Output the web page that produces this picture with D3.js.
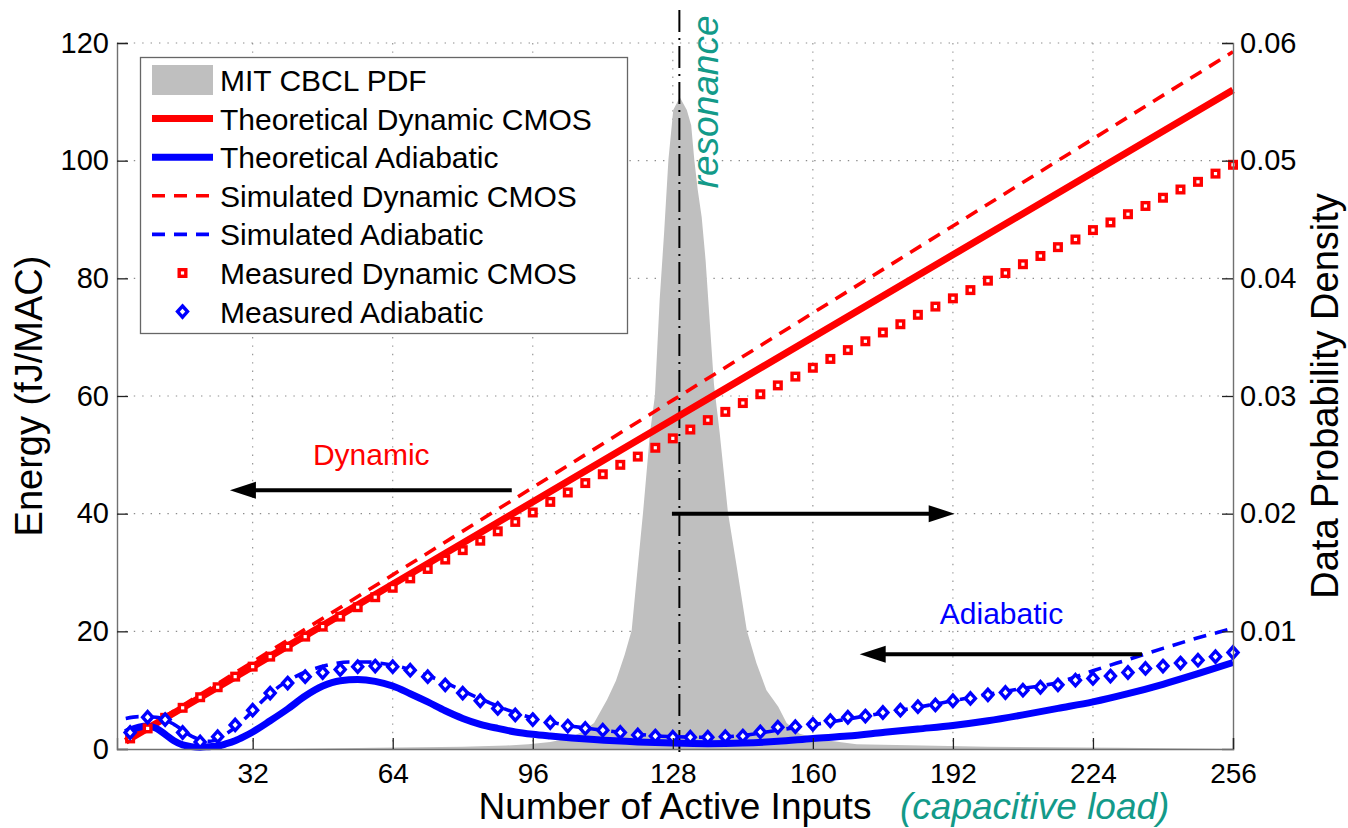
<!DOCTYPE html>
<html>
<head>
<meta charset="utf-8">
<script src="https://cdn.jsdelivr.net/npm/d3@7"></script>
<style>
    body { margin: 0; background: #fff; }
    svg text { font-family: "Liberation Sans", Arial, Helvetica, sans-serif; }
</style>
</head>
<body>
<svg id="chart" width="1348" height="828"></svg>
<script>
// tick values
const xTicks = [32, 64, 96, 128, 160, 192, 224, 256];
const yLeftTicks = [0, 20, 40, 60, 80, 100, 120];
const yRightTicks = [0.01, 0.02, 0.03, 0.04, 0.05, 0.06];

// MIT CBCL data PDF (right axis)
const pdfX = [1, 40, 60, 80, 90, 95, 100, 104, 107, 110, 113, 115, 117, 118.6, 120, 121.2, 122.8, 123.9, 125, 126, 127, 128.1,
    129.6, 131.2, 132.2, 132.9, 133.7, 134.6, 135.5, 136.4, 137.4, 138.7, 140.6, 142.6, 144.9, 147.1, 149.4, 152.1, 154, 157,
    161.6, 170, 185, 200, 230, 256];
const pdfY = [0, 0, 0.0001, 0.0002, 0.0003, 0.0004, 0.0006, 0.0009, 0.0014, 0.0022, 0.0042, 0.0058, 0.0080, 0.0101, 0.0155,
    0.0201, 0.0269, 0.0300, 0.0382, 0.0438, 0.0501, 0.0543, 0.0554, 0.0543, 0.0530, 0.0501, 0.0475, 0.0452, 0.0415, 0.0365,
    0.0310, 0.0269, 0.0201, 0.0155, 0.0101, 0.0073, 0.0050, 0.0036, 0.0022, 0.0013, 0.0008, 0.0004, 0.0003, 0.0002, 0.0001, 0];

// theoretical / simulated dynamic CMOS
const dynX = [3, 64, 128, 192, 256];
const theoDyn = [1.3, 28, 56, 84, 112];
const simDyn = [1.4, 29.6, 59.3, 88.9, 118.5];

// theoretical adiabatic
const theoAdiX = [3, 4, 6, 8, 10, 12, 14, 16, 18, 20, 22, 24, 26, 28, 30, 32, 36, 40, 44, 48, 52, 56, 60, 64, 68, 72, 76, 80,
    84, 88, 92, 96, 100, 110, 120, 128, 136, 144, 152, 160, 168, 176, 184, 192, 200, 208, 216, 224, 232, 240, 248, 256];
const theoAdi = [2.8, 3.2, 3.7, 3.9, 3.5, 2.5, 1.4, 0.7, 0.4, 0.3, 0.4, 0.5, 0.9, 1.4, 2.1, 2.9, 4.8, 6.8, 9.0, 10.7, 11.6,
    11.8, 11.5, 10.7, 9.4, 8.0, 6.5, 5.2, 4.2, 3.5, 2.9, 2.5, 2.2, 1.6, 1.2, 1.0, 0.9, 1.0, 1.3, 1.8, 2.2, 2.8, 3.4, 4.0,
    4.8, 5.8, 6.9, 8.0, 9.4, 11.0, 12.8, 14.7];

// simulated adiabatic
const simAdiX = [3, 6, 10, 14, 18, 22, 26, 30, 34, 38, 42, 46, 50, 54, 58, 62, 66, 70, 74, 78, 82, 86, 90, 94, 98, 104, 112,
    120, 128, 136, 144, 152, 160, 168, 176, 184, 192, 200, 208, 216, 224, 232, 240, 248, 256];
const simAdi = [5.2, 5.5, 5.4, 4.2, 2.2, 1.3, 2.6, 5.0, 8.0, 10.6, 12.4, 13.6, 14.4, 14.8, 14.8, 14.5, 13.9, 13.0, 11.9, 10.6,
    9.2, 7.9, 6.7, 5.7, 4.9, 4.0, 3.2, 2.5, 2.1, 2.0, 2.3, 3.2, 4.1, 5.1, 6.1, 7.1, 8.2, 9.3, 10.3, 11.3, 13.3, 15.2, 17.1,
    18.9, 20.5];

// measured points
const measX = [4, 8, 12, 16, 20, 24, 28, 32, 36, 40, 44, 48, 52, 56, 60, 64, 68, 72, 76, 80, 84, 88, 92, 96, 100, 104, 108,
    112, 116, 120, 124, 128, 132, 136, 140, 144, 148, 152, 156, 160, 164, 168, 172, 176, 180, 184, 188, 192, 196, 200, 204,
    208, 212, 216, 220, 224, 228, 232, 236, 240, 244, 248, 252, 256];
const measDyn = [1.8, 3.5, 5.3, 7.0, 8.8, 10.5, 12.3, 14.0, 15.7, 17.4, 19.1, 20.8, 22.5, 24.1, 25.8, 27.4, 29.0, 30.6, 32.2,
    33.8, 35.4, 37.0, 38.6, 40.2, 42.0, 43.6, 45.2, 46.7, 48.3, 49.7, 51.2, 52.8, 54.3, 55.9, 57.3, 58.8, 60.3, 61.8, 63.3,
    64.8, 66.3, 67.8, 69.3, 70.8, 72.2, 73.8, 75.2, 76.6, 78.0, 79.6, 80.9, 82.4, 83.8, 85.3, 86.6, 88.2, 89.5, 90.9, 92.3,
    93.7, 95.1, 96.4, 97.8, 99.3];
const measAdi = [2.8, 5.4, 5.0, 2.8, 1.2, 2.1, 4.1, 6.6, 9.5, 11.2, 12.3, 13.0, 13.5, 14.0, 14.1, 14.0, 13.4, 12.3, 10.9, 9.5,
    8.2, 6.9, 5.8, 5.0, 4.5, 3.9, 3.5, 3.2, 2.8, 2.4, 2.2, 2.0, 2.0, 2.0, 2.1, 2.2, 2.9, 3.7, 3.8, 4.2, 4.8, 5.4, 5.6, 6.2,
    6.6, 7.2, 7.5, 8.2, 8.6, 9.2, 9.6, 10.0, 10.5, 10.9, 11.7, 12.0, 12.4, 13.0, 13.7, 14.1, 14.6, 15.1, 15.7, 16.4];

const legendNames = ['MIT CBCL PDF', 'Theoretical Dynamic CMOS', 'Theoretical Adiabatic', 'Simulated Dynamic CMOS',
    'Simulated Adiabatic', 'Measured Dynamic CMOS', 'Measured Adiabatic'];

const RED = '#ff0000';
const BLUE = '#0000ff';
const TEAL = '#139a89';
const GRAY = '#bfbfbf';

const plot = { left: 117, right: 1233, top: 43, bottom: 749 };
const svg = d3.select('#chart');

const x = d3.scaleLinear().domain([1, 256]).range([plot.left, plot.right]);
const yL = d3.scaleLinear().domain([0, 120]).range([plot.bottom, plot.top]);
const yR = d3.scaleLinear().domain([0, 0.06]).range([plot.bottom, plot.top]);

// dotted grid
const grid = svg.append('g')
    .attr('stroke', '#8c8c8c')
    .attr('stroke-width', 1.1)
    .attr('stroke-dasharray', '1.4,7');
grid.selectAll('.gx')
    .data(xTicks.filter((d) => d < 256))
    .enter().append('line')
    .attr('x1', (d) => x(d)).attr('x2', (d) => x(d))
    .attr('y1', plot.top).attr('y2', plot.bottom);
grid.selectAll('.gy')
    .data(yLeftTicks.filter((d) => d > 0))
    .enter().append('line')
    .attr('x1', plot.left).attr('x2', plot.right)
    .attr('y1', (d) => yL(d)).attr('y2', (d) => yL(d));

// PDF area
const pdf = pdfX.map((d, i) => [d, pdfY[i]]);
svg.append('path')
    .datum(pdf)
    .attr('fill', GRAY)
    .attr('d', d3.area().x((d) => x(d[0])).y0(yR(0)).y1((d) => yR(d[1])));

// resonance dash-dot line
svg.append('line')
    .attr('x1', x(129.5)).attr('x2', x(129.5))
    .attr('y1', yL(-0.5)).attr('y2', yL(125.8))
    .attr('stroke', '#000')
    .attr('stroke-width', 2)
    .attr('stroke-dasharray', '22,6,2,6');

const lineLin = d3.line().x((d) => x(d[0])).y((d) => yL(d[1]));
const lineSmooth = d3.line().curve(d3.curveMonotoneX).x((d) => x(d[0])).y((d) => yL(d[1]));

function zip(xs, ys) {
    return xs.map((d, i) => [d, ys[i]]);
}

svg.append('path').datum(zip(dynX, theoDyn))
    .attr('fill', 'none').attr('stroke', RED).attr('stroke-width', 7)
    .attr('d', lineLin);
svg.append('path').datum(zip(dynX, simDyn))
    .attr('fill', 'none').attr('stroke', RED).attr('stroke-width', 3.6)
    .attr('stroke-dasharray', '13,9')
    .attr('d', lineLin);
svg.append('path').datum(zip(theoAdiX, theoAdi))
    .attr('fill', 'none').attr('stroke', BLUE).attr('stroke-width', 7)
    .attr('d', lineSmooth);
svg.append('path').datum(zip(simAdiX, simAdi))
    .attr('fill', 'none').attr('stroke', BLUE).attr('stroke-width', 3.6)
    .attr('stroke-dasharray', '13,9')
    .attr('d', lineSmooth);

// measured markers
const sq = 6.6;
svg.selectAll('.msq')
    .data(zip(measX, measDyn))
    .enter().append('rect')
    .attr('x', (d) => x(d[0]) - sq / 2)
    .attr('y', (d) => yL(d[1]) - sq / 2)
    .attr('width', sq).attr('height', sq)
    .attr('fill', '#fff').attr('stroke', RED).attr('stroke-width', 3.4);

const diamond = (cx, cy) => `M${cx},${cy - 5.6}L${cx + 5},${cy}L${cx},${cy + 5.6}L${cx - 5},${cy}Z`;
svg.selectAll('.mdi')
    .data(zip(measX, measAdi))
    .enter().append('path')
    .attr('d', (d) => diamond(x(d[0]), yL(d[1])))
    .attr('fill', '#fff').attr('stroke', BLUE).attr('stroke-width', 3.4)
    .attr('stroke-linejoin', 'miter');

// arrows
function arrow(x1, x2, yv) {
    const px1 = x(x1);
    const px2 = x(x2);
    const py = yL(yv);
    const dir = Math.sign(px2 - px1);
    const headLen = 26;
    svg.append('line')
        .attr('x1', px1).attr('x2', px2 - dir * headLen * 0.8)
        .attr('y1', py).attr('y2', py)
        .attr('stroke', '#000').attr('stroke-width', 4);
    svg.append('path')
        .attr('d', `M${px2},${py}L${px2 - dir * headLen},${py - 8.5}L${px2 - dir * headLen},${py + 8.5}Z`)
        .attr('fill', '#000');
}
arrow(91.2, 26.8, 44);
arrow(127.8, 192.4, 40);
arrow(235.2, 170.7, 16.1);

svg.append('text')
    .attr('x', x(59.1)).attr('y', yL(48.3))
    .attr('text-anchor', 'middle')
    .attr('fill', RED).style('font-size', '30px')
    .text('Dynamic');
svg.append('text')
    .attr('x', x(203.1)).attr('y', yL(21.3))
    .attr('text-anchor', 'middle')
    .attr('fill', BLUE).style('font-size', '30px')
    .text('Adiabatic');
svg.append('text')
    .attr('transform', `translate(${x(129.5) + 39},${yL(95.3)}) rotate(-90)`)
    .attr('fill', TEAL).style('font-size', '37px').style('font-style', 'italic')
    .text('resonance');

// axes
const axisLeft = d3.axisLeft(yL).tickValues(yLeftTicks).tickSize(-11).tickPadding(8);
const axisRight = d3.axisRight(yR).tickValues(yRightTicks).tickSize(-11).tickPadding(7).tickFormat(d3.format('.2f'));
const axisBottom = d3.axisBottom(x).tickValues(xTicks).tickSize(-11).tickPadding(14);

function styleAxis(g) {
    g.select('.domain').attr('stroke', '#707070').attr('stroke-width', 1.4);
    g.selectAll('.tick line').attr('stroke', '#222').attr('stroke-width', 1.3);
    g.selectAll('.tick text').attr('fill', '#000').style('font-size', '29px');
}

svg.append('g').attr('transform', `translate(${plot.left},0)`).call(axisLeft).call(styleAxis);
svg.append('g').attr('transform', `translate(${plot.right},0)`).call(axisRight).call(styleAxis);
svg.append('g').attr('transform', `translate(0,${plot.bottom})`).call(axisBottom).call(styleAxis)
    .selectAll('.tick text').style('font-size', '28px');

// axis titles
svg.append('text')
    .attr('transform', `translate(42,${(plot.top + plot.bottom) / 2}) rotate(-90)`)
    .attr('text-anchor', 'middle').style('font-size', '38px')
    .text('Energy (fJ/MAC)');
svg.append('text')
    .attr('transform', `translate(1338,${(plot.top + plot.bottom) / 2}) rotate(-90)`)
    .attr('text-anchor', 'middle').style('font-size', '38px')
    .text('Data Probability Density');
svg.append('text')
    .attr('x', (plot.left + plot.right) / 2).attr('y', 819)
    .attr('text-anchor', 'middle').style('font-size', '37px')
    .text('Number of Active Inputs');
svg.append('text')
    .attr('x', 900).attr('y', 819)
    .attr('fill', TEAL).style('font-size', '37px').style('font-style', 'italic')
    .text('(capacitive load)');

// legend
const legend = svg.append('g').attr('transform', 'translate(140,57)');
legend.append('rect')
    .attr('x', 0.5).attr('y', 0.5).attr('width', 487).attr('height', 276)
    .attr('fill', '#fff').attr('stroke', '#666').attr('stroke-width', 1.3);

const rowY = (i) => 23 + i * 38.6;
const sx1 = 12;
const sx2 = 73;
const smid = (sx1 + sx2) / 2;

legend.append('rect')
    .attr('x', sx1).attr('y', rowY(0) - 15).attr('width', sx2 - sx1).attr('height', 30)
    .attr('fill', GRAY);
[[1, RED, null], [2, BLUE, null], [3, RED, '13,9'], [4, BLUE, '13,9']].forEach(([i, col, dash]) => {
    legend.append('line')
        .attr('x1', sx1).attr('x2', sx2)
        .attr('y1', rowY(i)).attr('y2', rowY(i))
        .attr('stroke', col)
        .attr('stroke-width', dash ? 3.6 : 7)
        .attr('stroke-dasharray', dash);
});
legend.append('rect')
    .attr('x', smid - sq / 2).attr('y', rowY(5) - sq / 2).attr('width', sq).attr('height', sq)
    .attr('fill', '#fff').attr('stroke', RED).attr('stroke-width', 3.4);
legend.append('path')
    .attr('d', diamond(smid, rowY(6)))
    .attr('fill', '#fff').attr('stroke', BLUE).attr('stroke-width', 3.4);

legend.selectAll('.ltxt')
    .data(legendNames)
    .enter().append('text')
    .attr('x', 80)
    .attr('y', (d, i) => rowY(i) + 11)
    .style('font-size', '30px')
    .text((d) => d);
</script>
</body>
</html>
